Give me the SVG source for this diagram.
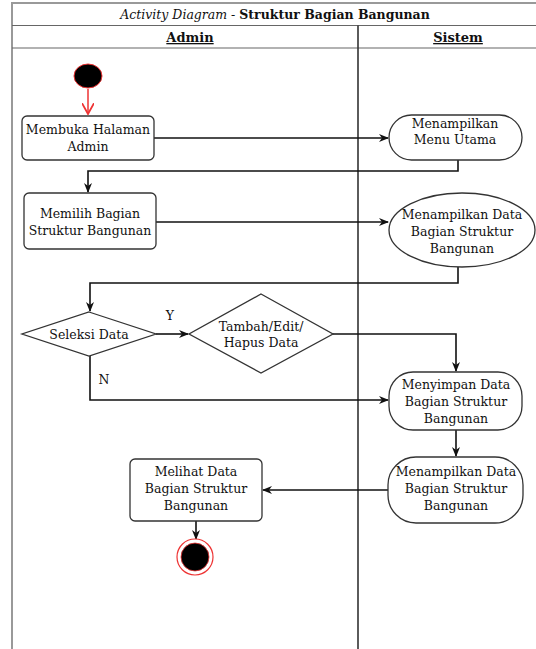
<svg xmlns="http://www.w3.org/2000/svg" width="536" height="649" viewBox="0 0 536 649">
<style>
text{font-family:"DejaVu Serif","Liberation Serif",serif;font-size:12.5px;fill:#111;text-anchor:middle}
.frame{fill:none;stroke:#999;stroke-width:2}
.lane{stroke:#333;stroke-width:1.6}
.node{fill:#fff;stroke:#333;stroke-width:1.3}
.conn{fill:none;stroke:#111;stroke-width:1.6}
.hdr{font-weight:bold;text-decoration:underline;font-size:13px}
</style>
<defs>
<marker id="ah" viewBox="0 0 10 10" refX="9" refY="5" markerWidth="10" markerHeight="10" markerUnits="userSpaceOnUse" orient="auto">
<path d="M0,1 L10,5 L0,9 L3,5 z" fill="#111"/>
</marker>
<marker id="ahr" viewBox="0 0 10 10" refX="9" refY="5" markerWidth="12" markerHeight="12" markerUnits="userSpaceOnUse" orient="auto">
<path d="M0,0 L9,5 L0,10" fill="none" stroke="#e33" stroke-width="1.5"/>
</marker>
</defs>
<rect width="536" height="649" fill="#fff"/>
<g id="frame">
<path class="frame" d="M12,649 V3 H540"/>
<line x1="12" y1="25.5" x2="540" y2="25.5" stroke="#666" stroke-width="1.2"/>
<line x1="12" y1="48" x2="540" y2="48" stroke="#666" stroke-width="1.2"/>
<line class="lane" x1="358" y1="25.5" x2="358" y2="649"/>
<text x="275" y="19" font-size="13"><tspan font-style="italic">Activity Diagram</tspan> - <tspan font-weight="bold">Struktur Bagian Bangunan</tspan></text>
<text class="hdr" x="190" y="42">Admin</text>
<text class="hdr" x="458" y="42">Sistem</text>
</g>
<g id="connectors">
<line x1="88" y1="89" x2="88" y2="114" stroke="#e33" stroke-width="1.5" marker-end="url(#ahr)"/>
<line class="conn" x1="154" y1="138" x2="388" y2="138" marker-end="url(#ah)"/>
<path class="conn" d="M458,160 V171 H88 V192" marker-end="url(#ah)"/>
<line class="conn" x1="156" y1="222" x2="388" y2="222" marker-end="url(#ah)"/>
<path class="conn" d="M458,267 V283 H90 V311" marker-end="url(#ah)"/>
<line class="conn" x1="156" y1="334" x2="188" y2="334" marker-end="url(#ah)"/>
<path class="conn" d="M333,334 H456 V371" marker-end="url(#ah)"/>
<path class="conn" d="M90,356 V400 H388" marker-end="url(#ah)"/>
<line class="conn" x1="456" y1="430" x2="456" y2="456" marker-end="url(#ah)"/>
<line class="conn" x1="388" y1="490" x2="263" y2="490" marker-end="url(#ah)"/>
<line class="conn" x1="196" y1="521" x2="196" y2="539" marker-end="url(#ah)"/>
<text x="170" y="320">Y</text>
<text x="104" y="384">N</text>
</g>
<g id="start">
<ellipse cx="88" cy="76" rx="14" ry="12" fill="#000" stroke="#e33" stroke-width="1"/>
</g>
<g id="membuka">
<rect class="node" x="22" y="116" width="132" height="44" rx="5"/>
<text x="88" y="134">Membuka Halaman</text>
<text x="88" y="151">Admin</text>
</g>
<g id="menu-utama">
<rect class="node" x="389" y="115" width="133" height="45" rx="22.5"/>
<text x="455" y="128">Menampilkan</text>
<text x="455" y="144">Menu Utama</text>
</g>
<g id="memilih">
<rect class="node" x="24" y="193" width="132" height="56" rx="5"/>
<text x="90" y="218">Memilih Bagian</text>
<text x="90" y="235">Struktur Bangunan</text>
</g>
<g id="tampil-data">
<ellipse class="node" cx="462" cy="230" rx="73" ry="37"/>
<text x="462" y="219">Menampilkan  Data</text>
<text x="462" y="236">Bagian Struktur</text>
<text x="462" y="253">Bangunan</text>
</g>
<g id="seleksi">
<polygon class="node" points="89,312 156,334 89,356 22,334"/>
<text x="89" y="339">Seleksi Data</text>
</g>
<g id="tambah">
<polygon class="node" points="261,294 333,334 261,373 189,334"/>
<text x="261" y="331">Tambah/Edit/</text>
<text x="261" y="347">Hapus Data</text>
</g>
<g id="menyimpan">
<rect class="node" x="389" y="372" width="133" height="58" rx="24"/>
<text x="456" y="389">Menyimpan  Data</text>
<text x="456" y="406">Bagian Struktur</text>
<text x="456" y="423">Bangunan</text>
</g>
<g id="tampil-data2">
<rect class="node" x="388" y="457" width="135" height="66" rx="28"/>
<text x="456" y="476">Menampilkan Data</text>
<text x="456" y="493">Bagian Struktur</text>
<text x="456" y="510">Bangunan</text>
</g>
<g id="melihat">
<rect class="node" x="130" y="459" width="132" height="62" rx="5"/>
<text x="196" y="476">Melihat Data</text>
<text x="196" y="493">Bagian Struktur</text>
<text x="196" y="510">Bangunan</text>
</g>
<g id="end">
<circle cx="195" cy="557" r="18" fill="#fff" stroke="#e33" stroke-width="1.2"/>
<circle cx="195" cy="557" r="14" fill="#000" stroke="#e33" stroke-width="0.8"/>
</g>
</svg>
